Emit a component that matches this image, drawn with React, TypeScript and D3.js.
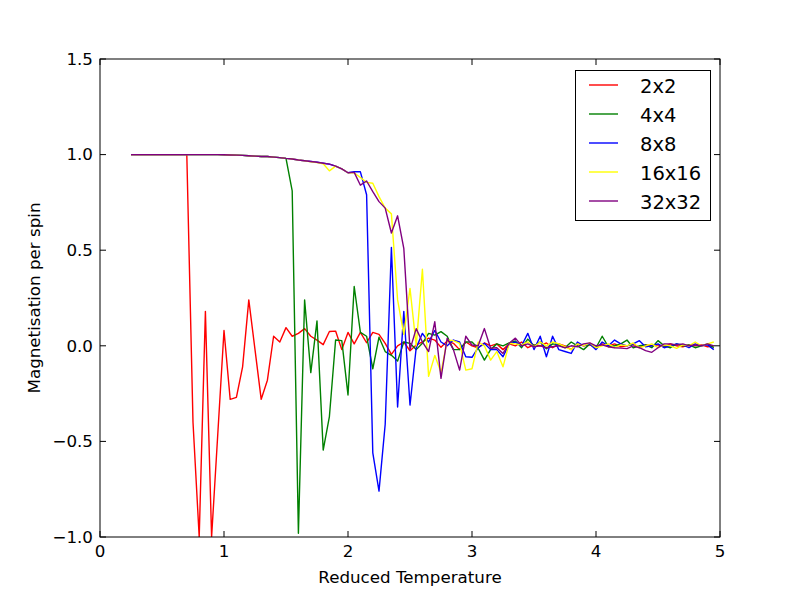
import * as d3 from "d3";
import React from "react";

// reduced temperature grid
const temperatures = [
  0.25, 0.3, 0.35, 0.4, 0.45, 0.5, 0.55, 0.6, 0.65, 0.7,
  0.75, 0.8, 0.85, 0.9, 0.95, 1.0, 1.05, 1.1, 1.15, 1.2,
  1.25, 1.3, 1.35, 1.4, 1.45, 1.5, 1.55, 1.6, 1.65, 1.7,
  1.75, 1.8, 1.85, 1.9, 1.95, 2.0, 2.05, 2.1, 2.15, 2.2,
  2.25, 2.3, 2.35, 2.4, 2.45, 2.5, 2.55, 2.6, 2.65, 2.7,
  2.75, 2.8, 2.85, 2.9, 2.95, 3.0, 3.05, 3.1, 3.15, 3.2,
  3.25, 3.3, 3.35, 3.4, 3.45, 3.5, 3.55, 3.6, 3.65, 3.7,
  3.75, 3.8, 3.85, 3.9, 3.95, 4.0, 4.05, 4.1, 4.15, 4.2,
  4.25, 4.3, 4.35, 4.4, 4.45, 4.5, 4.55, 4.6, 4.65, 4.7,
  4.75, 4.8, 4.85, 4.9, 4.95,
];

const mag2 = [
  1, 1, 1, 1, 1, 1, 1, 1, 1, 1,
  -0.4, -1.0, 0.18, -1.0, -0.46, 0.08, -0.28, -0.27, -0.11, 0.24,
  -0.02, -0.28, -0.18, 0.05, 0.02, 0.095, 0.05, 0.065, 0.09, 0.05,
  0.03, 0.006, 0.075, 0.077, -0.02, 0.07, 0.01, 0.07, 0.016, 0.07,
  0.06, 0.013, -0.045, 0.0, 0.02, -0.026, 0.004, 0.02, 0.04, 0.03,
  -0.008, 0.025, 0.013, -0.02, 0.02, 0.0, -0.01, 0.015, 0.0, 0.01,
  -0.02, 0.01, 0.0, 0.02, -0.01, 0.005, 0.0, 0.015, -0.01, 0.01,
  0.0, -0.02, 0.01, 0.0, 0.005, -0.01, 0.01, 0.0, 0.01, -0.005,
  0.0, 0.01, -0.01, 0.005, 0.0, 0.005, -0.005, 0.01, 0.0, -0.005,
  0.005, 0.0, 0.005, -0.005, 0.0,
];

const mag4 = [
  1, 1, 1, 1, 1, 1, 1, 1, 1, 1,
  1, 1, 1, 1, 1, 0.999, 0.998, 0.997, 0.996, 0.994,
  0.992, 0.99, 0.99, 0.987, 0.984, 0.98, 0.81, -0.98, 0.24, -0.14,
  0.13, -0.545, -0.37, 0.03, 0.027, -0.257, 0.31, 0.07, 0.05, -0.12,
  0.045, -0.03, -0.05, -0.08, 0.02, 0.013, -0.02, 0.013, 0.065, 0.056,
  0.074, 0.05, -0.02, -0.02, 0.02, 0.02, -0.013, -0.075, -0.02, 0.01,
  0.0, 0.015, 0.025, -0.01, 0.035, 0.0, 0.02, -0.015, 0.01, 0.005,
  -0.01, 0.02, 0.0, -0.02, 0.01, -0.01, 0.05, -0.005, 0.0, 0.01,
  0.03, -0.01, 0.0, 0.005, -0.01, 0.027, 0.0, -0.01, 0.01, 0.0,
  0.005, -0.01, 0.0, 0.01, -0.01,
];

const mag8 = [
  1, 1, 1, 1, 1, 1, 1, 1, 1, 1,
  1, 1, 1, 1, 1, 0.999, 0.998, 0.997, 0.996, 0.994,
  0.992, 0.99, 0.99, 0.987, 0.984, 0.98, 0.977, 0.972, 0.968, 0.964,
  0.96, 0.955, 0.95, 0.94, 0.925, 0.905, 0.91, 0.91, 0.79, -0.56,
  -0.76, -0.41, 0.515, -0.32, 0.18, -0.31, -0.01, 0.065, 0.02, 0.08,
  0.02, 0.0, 0.03, 0.02, -0.057, -0.06, -0.01, 0.013, -0.02, -0.02,
  -0.057, 0.01, 0.02, 0.0, 0.065, -0.02, 0.05, -0.057, 0.05, -0.02,
  -0.03, -0.04, 0.02, 0.0, 0.01, -0.02, 0.02, 0.0, 0.03, 0.01,
  0.0, 0.01, 0.027, -0.005, 0.0, 0.01, -0.01, 0.0, 0.01, 0.005,
  -0.01, 0.01, 0.0, 0.005, -0.02,
];

const mag16 = [
  1, 1, 1, 1, 1, 1, 1, 1, 1, 1,
  1, 1, 1, 1, 1, 0.999, 0.998, 0.997, 0.996, 0.994,
  0.992, 0.99, 0.99, 0.987, 0.984, 0.98, 0.977, 0.972, 0.968, 0.962,
  0.958, 0.952, 0.915, 0.94, 0.925, 0.905, 0.905, 0.88, 0.855, 0.85,
  0.78, 0.72, 0.69, 0.24, 0.06, 0.3, 0.0, 0.4, -0.16, -0.05,
  -0.14, 0.03, 0.027, 0.013, -0.127, -0.12, 0.02, 0.0, -0.075, -0.03,
  -0.11, 0.013, 0.01, 0.005, 0.02, -0.005, 0.02, 0.0, 0.02, 0.01,
  -0.005, -0.02, 0.01, 0.0, 0.015, -0.01, 0.0, 0.01, -0.01, 0.005,
  0.0, 0.015, -0.01, 0.0, 0.01, -0.01, 0.005, 0.0, -0.013, 0.005,
  0.0, 0.02, 0.0, 0.01, 0.02,
];

const mag32 = [
  1, 1, 1, 1, 1, 1, 1, 1, 1, 1,
  1, 1, 1, 1, 1, 0.999, 0.998, 0.997, 0.996, 0.994,
  0.992, 0.99, 0.99, 0.987, 0.984, 0.98, 0.977, 0.972, 0.968, 0.964,
  0.96, 0.955, 0.95, 0.94, 0.925, 0.905, 0.907, 0.84, 0.862, 0.806,
  0.754, 0.72, 0.59, 0.68, 0.51, -0.02, 0.09, 0.02, -0.03, 0.126,
  -0.17, 0.04, -0.02, -0.127, 0.05, 0.004, 0.0, 0.09, -0.013, -0.01,
  -0.04, 0.013, 0.04, 0.0, 0.01, -0.005, 0.0, -0.01, -0.005, 0.0,
  -0.01, 0.0, -0.005, 0.01, 0.015, 0.0, 0.005, -0.005, -0.01, -0.012,
  -0.015, 0.0, -0.01, -0.025, -0.034, -0.01, 0.01, 0.01, 0.005, 0.01,
  0.0, 0.005, 0.0, 0.01, 0.0,
];

const seriesNames = ["2x2", "4x4", "8x8", "16x16", "32x32"];
const seriesValues = [mag2, mag4, mag8, mag16, mag32];
const seriesColors = ["#ff0000", "#008000", "#0000ff", "#ffff00", "#800080"];

const xTicks = [0, 1, 2, 3, 4, 5];
const yTicks = [-1.0, -0.5, 0.0, 0.5, 1.0, 1.5];

const width = 800;
const height = 597;
const margin = { top: 59, right: 80, bottom: 60, left: 100 };
const font = "DejaVu Sans, sans-serif";

function App() {
  const x = d3.scaleLinear().domain([0, 5]).range([margin.left, width - margin.right]);
  const y = d3.scaleLinear().domain([-1, 1.5]).range([height - margin.bottom, margin.top]);
  const [x0, x1] = x.range();
  const [y0, y1] = y.range();

  const line = d3
    .line<number>()
    .x((d, i) => x(temperatures[i]))
    .y((d) => y(d));

  const tickLen = 6;

  return (
    <svg
      width={width}
      height={height}
      style={{ position: "absolute", left: 0, top: 0, background: "#fff" }}
      fontFamily={font}
    >
      <defs>
        <clipPath id="plot">
          <rect x={x0} y={y1} width={x1 - x0} height={y0 - y1} />
        </clipPath>
      </defs>
      <rect x={0} y={0} width={width} height={height} fill="#fff" />

      <g clipPath="url(#plot)">
        {seriesValues.map((vals, k) => (
          <path
            key={seriesNames[k]}
            d={line(vals) || ""}
            fill="none"
            stroke={seriesColors[k]}
            strokeWidth={1.4}
            strokeLinejoin="round"
          />
        ))}
      </g>

      {/* frame */}
      <rect x={x0} y={y1} width={x1 - x0} height={y0 - y1} fill="none" stroke="#000" strokeWidth={1} />

      {/* x ticks */}
      {xTicks.map((t) => (
        <g key={"x" + t}>
          <line x1={x(t)} x2={x(t)} y1={y0} y2={y0 - tickLen} stroke="#000" />
          <line x1={x(t)} x2={x(t)} y1={y1} y2={y1 + tickLen} stroke="#000" />
          <text x={x(t)} y={y0 + 20} textAnchor="middle" fontSize={16.7} fill="#000">
            {t}
          </text>
        </g>
      ))}

      {/* y ticks */}
      {yTicks.map((t) => (
        <g key={"y" + t}>
          <line x1={x0} x2={x0 + tickLen} y1={y(t)} y2={y(t)} stroke="#000" />
          <line x1={x1} x2={x1 - tickLen} y1={y(t)} y2={y(t)} stroke="#000" />
          <text x={x0 - 7} y={y(t)} dy="0.35em" textAnchor="end" fontSize={16.7} fill="#000">
            {t < 0 ? "\u2212" + Math.abs(t).toFixed(1) : t.toFixed(1)}
          </text>
        </g>
      ))}

      <text x={(x0 + x1) / 2} y={583} textAnchor="middle" fontSize={16.7} fill="#000">
        Reduced Temperature
      </text>
      <text
        transform={`translate(40, ${(y0 + y1) / 2}) rotate(-90)`}
        textAnchor="middle"
        fontSize={16.7}
        fill="#000"
      >
        Magnetisation per spin
      </text>

      {/* legend */}
      <g>
        <rect x={575.5} y={70.5} width={135} height={150} fill="#fff" stroke="#000" strokeWidth={1} />
        {seriesNames.map((name, k) => (
          <g key={name} transform={`translate(0, ${85 + k * 29})`}>
            <line x1={589} x2={618} y1={0} y2={0} stroke={seriesColors[k]} strokeWidth={1.4} />
            <text x={640} y={8} fontSize={19.5} fill="#000">
              {name}
            </text>
          </g>
        ))}
      </g>
    </svg>
  );
}

export default App;
